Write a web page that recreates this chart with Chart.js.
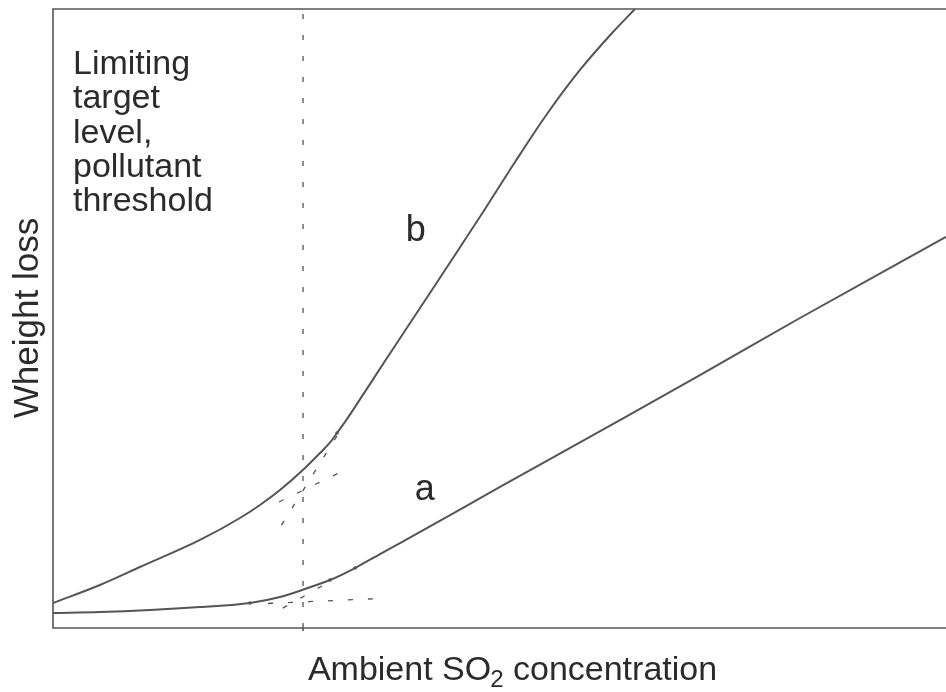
<!DOCTYPE html>
<html>
<head>
<meta charset="utf-8">
<script src="https://cdn.jsdelivr.net/npm/chart.js@4"></script>
<style>
  html, body { margin: 0; padding: 0; background: #fff; overflow: hidden; }
  #wrap { width: 946px; height: 692px; }
</style>
</head>
<body>
<div id="wrap"><canvas id="chart" width="946" height="692"></canvas></div>
<script>
// concentration (x) and weight loss (y), arbitrary units 0-100
const curveA_x = [0, 5.26, 10.86, 16.46, 22.06, 25.42, 28.22, 31.02, 33.82, 36.62, 38.86, 50.06, 63.49, 72.45, 83.65, 100];
const curveA_y = [2.42, 2.58, 2.91, 3.39, 4.04, 5.01, 6.30, 7.75, 9.69, 11.95, 13.73, 22.78, 33.60, 40.87, 50.08, 63.17];

const curveB_x = [0, 5.26, 9.74, 16.46, 20.94, 23.18, 25.42, 28.22, 29.90, 31.10, 31.80, 32.70, 33.59, 37.40, 41.10, 44.79, 48.38, 51.74, 55.32, 59.01, 62.71, 65.17];
const curveB_y = [4.04, 6.95, 9.85, 14.22, 17.77, 19.87, 22.29, 25.85, 28.27, 30.10, 31.50, 33.30, 35.20, 43.62, 51.70, 59.77, 67.69, 75.28, 83.04, 90.15, 96.28, 100];

// dashed tangent extensions near the threshold
const tangentB_low = [[25.31, 20.36], [32.70, 25.53]];
const tangentB_high = [[31.80, 31.02], [25.31, 15.99]];
const tangentA_flat = [[24.08, 3.96], [36.62, 4.77]];
const tangentA_steep = [[30.12, 6.79], [24.97, 2.58]];

const tangentMarks_x = [31.80, 22.06, 31.02, 33.82];
const tangentMarks_y = [31.50, 4.04, 7.75, 9.69];

const threshold_x = 28.0;

const thresholdText = ['Limiting', 'target', 'level,', 'pollutant', 'threshold'];

const FONT = '"Liberation Sans", Arial, Helvetica, sans-serif';
const LINE = '#555';
const TEXT = '#2b2b2b';

function toPoints(xs, ys) {
  return xs.map((x, i) => ({ x: x, y: ys[i] }));
}
function pairPoints(arr) {
  return arr.map(p => ({ x: p[0], y: p[1] }));
}

function dashed(data) {
  return {
    data: data,
    borderColor: LINE,
    borderWidth: 1.3,
    borderDash: [5, 15],
    pointRadius: 0,
    tension: 0,
    fill: false
  };
}

const decorPlugin = {
  id: 'decor',
  afterDatasetsDraw(chart) {
    const ctx = chart.ctx;
    const a = chart.chartArea;
    const xs = chart.scales.x;
    const ys = chart.scales.y;
    ctx.save();
    // frame: top, left, bottom (no right edge)
    ctx.strokeStyle = LINE;
    ctx.lineWidth = 1.6;
    ctx.beginPath();
    ctx.moveTo(a.right + 2, a.top);
    ctx.lineTo(a.left, a.top);
    ctx.lineTo(a.left, a.bottom);
    ctx.lineTo(a.right + 2, a.bottom);
    ctx.stroke();
    // tick at the threshold
    const tx = xs.getPixelForValue(threshold_x);
    ctx.beginPath();
    ctx.moveTo(tx, a.bottom);
    ctx.lineTo(tx, a.bottom + 3);
    ctx.stroke();

    ctx.fillStyle = TEXT;
    ctx.textBaseline = 'alphabetic';
    ctx.textAlign = 'left';
    ctx.font = '34px ' + FONT;
    thresholdText.forEach((t, i) => {
      ctx.fillText(t, a.left + 20, a.top + 65 + i * 34.3);
    });

    // curve labels
    ctx.font = '36px ' + FONT;
    ctx.fillText('b', xs.getPixelForValue(39.5), ys.getPixelForValue(62.6));
    ctx.fillText('a', xs.getPixelForValue(40.5), ys.getPixelForValue(20.6));

    // y axis title
    ctx.save();
    ctx.translate(38, 318);
    ctx.rotate(-Math.PI / 2);
    ctx.textAlign = 'center';
    ctx.font = '35px ' + FONT;
    ctx.fillText('Wheight loss', 0, 0);
    ctx.restore();

    // x axis title with subscript
    const p1 = 'Ambient SO';
    const p2 = '2';
    const p3 = ' concentration';
    ctx.font = '34px ' + FONT;
    const w1 = ctx.measureText(p1).width;
    const w3 = ctx.measureText(p3).width;
    ctx.font = '24px ' + FONT;
    const w2 = ctx.measureText(p2).width;
    let x0 = 513 - (w1 + w2 + w3) / 2;
    const base = 680;
    ctx.font = '34px ' + FONT;
    ctx.fillText(p1, x0, base);
    ctx.font = '24px ' + FONT;
    ctx.fillText(p2, x0 + w1 - 1, base + 7);
    ctx.font = '34px ' + FONT;
    ctx.fillText(p3, x0 + w1 + w2 - 1, base);
    ctx.restore();
  }
};

new Chart(document.getElementById('chart'), {
  type: 'line',
  data: {
    datasets: [
      {
        label: 'a',
        data: toPoints(curveA_x, curveA_y),
        borderColor: LINE,
        borderWidth: 2,
        pointRadius: 0,
        cubicInterpolationMode: 'monotone',
        fill: false
      },
      {
        label: 'b',
        data: toPoints(curveB_x, curveB_y),
        borderColor: LINE,
        borderWidth: 2,
        pointRadius: 0,
        cubicInterpolationMode: 'monotone',
        fill: false
      },
      {
        label: 'threshold',
        data: [{ x: threshold_x, y: 0 }, { x: threshold_x, y: 100 }],
        borderColor: LINE,
        borderWidth: 1.3,
        borderDash: [5, 16],
        pointRadius: 0,
        fill: false
      },
      dashed(pairPoints(tangentB_low)),
      dashed(pairPoints(tangentB_high)),
      dashed(pairPoints(tangentA_flat)),
      dashed(pairPoints(tangentA_steep)),
      {
        label: 'marks',
        data: toPoints(tangentMarks_x, tangentMarks_y),
        showLine: false,
        pointRadius: 1.8,
        pointBackgroundColor: LINE,
        pointBorderWidth: 0
      }
    ]
  },
  options: {
    responsive: false,
    animation: false,
    layout: { autoPadding: false, padding: { left: 53, top: 9, right: 0, bottom: 64 } },
    plugins: {
      legend: { display: false },
      tooltip: { enabled: false }
    },
    scales: {
      x: { type: 'linear', min: 0, max: 100, display: false },
      y: { type: 'linear', min: 0, max: 100, display: false }
    }
  },
  plugins: [decorPlugin]
});
</script>
</body>
</html>
